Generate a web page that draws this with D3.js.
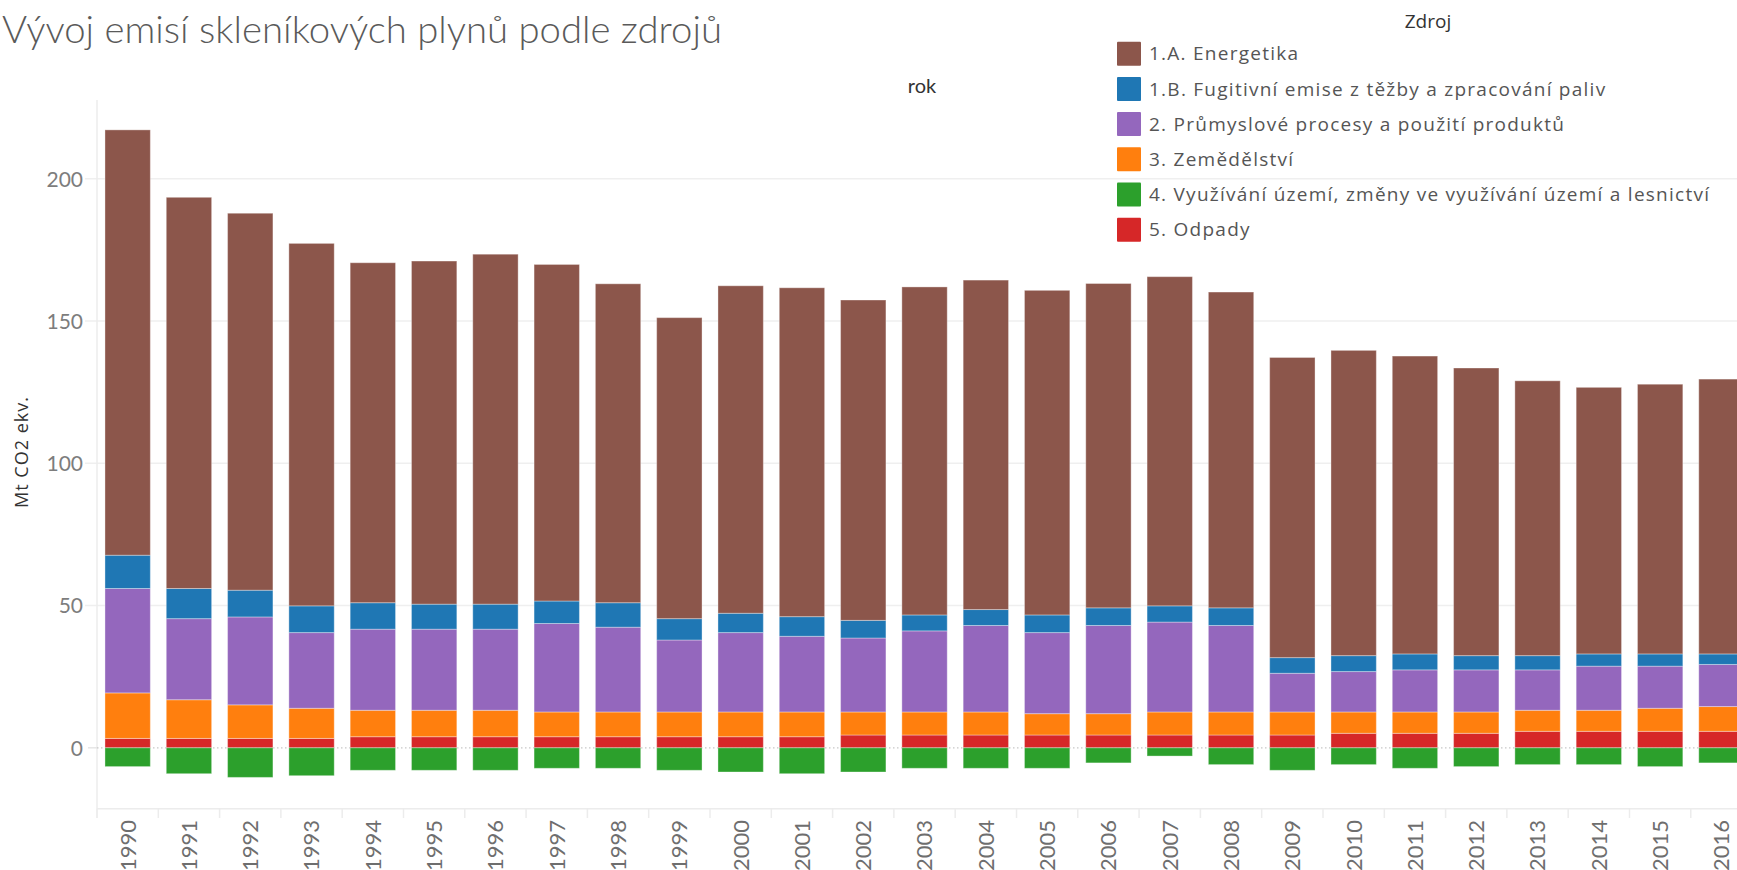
<!DOCTYPE html>
<html>
<head>
<meta charset="utf-8">
<script src="https://cdn.jsdelivr.net/npm/d3@7"></script>
<style>
  html, body { margin: 0; padding: 0; background: #fff; overflow: hidden; }
  svg { display: block; font-family: Lato, "Open Sans", sans-serif; }
</style>
</head>
<body>
<svg id="chart" width="1737" height="870"></svg>
<script>
// ---- Data (Mt CO2 ekv.) ----
const years = ["1990","1991","1992","1993","1994","1995","1996","1997","1998","1999","2000","2001","2002","2003","2004","2005","2006","2007","2008","2009","2010","2011","2012","2013","2014","2015","2016"];
const seriesNames = [
  "1.A. Energetika",
  "1.B. Fugitivní emise z těžby a zpracování paliv",
  "2. Průmyslové procesy a použití produktů",
  "3. Zemědělství",
  "4. Využívání území, změny ve využívání území a lesnictví",
  "5. Odpady"
];
const energetika  = [149.5,137.5,132.5,127.4,119.5,120.6,123.0,118.3,112.1,105.8,115.1,115.6,112.6,115.3,115.8,114.1,114.0,115.7,111.0,105.5,107.3,104.7,101.1,96.6,93.7,94.8,96.6];
const fugitivni   = [11.7,10.6,9.4,9.4,9.3,8.8,8.8,7.9,8.6,7.5,6.8,6.9,6.2,5.6,5.6,6.2,6.2,5.7,6.2,5.5,5.6,5.6,5.0,5.0,4.3,4.3,3.7];
const prumysl     = [36.7,28.5,30.9,26.6,28.5,28.5,28.5,31.1,29.8,25.3,27.9,26.6,26.0,28.5,30.4,28.5,31.0,31.6,30.4,13.6,14.2,14.8,14.8,14.2,15.5,14.8,14.8];
const zemedelstvi = [16.0,13.6,11.8,10.6,9.3,9.3,9.3,8.7,8.7,8.7,8.7,8.7,8.1,8.1,8.1,7.5,7.5,8.1,8.1,8.1,7.5,7.5,7.5,7.4,7.4,8.1,8.7];
const lulucf      = [-6.6,-9.1,-10.4,-9.8,-7.9,-7.9,-7.9,-7.2,-7.2,-7.9,-8.5,-9.1,-8.5,-7.2,-7.2,-7.2,-5.3,-2.9,-5.9,-7.9,-5.9,-7.2,-6.6,-5.9,-5.9,-6.6,-5.3];
const odpady      = [3.3,3.3,3.3,3.3,3.9,3.9,3.9,3.9,3.9,3.9,3.9,3.9,4.5,4.5,4.5,4.5,4.5,4.5,4.5,4.5,5.1,5.1,5.1,5.8,5.8,5.8,5.8];
const yTicks = [0, 50, 100, 150, 200];
const colors = ["#8c564b","#1f77b4","#9467bd","#ff7f0e","#2ca02c","#d62728"];

// ---- Build table ----
const valuesBySeries = [energetika, fugitivni, prumysl, zemedelstvi, lulucf, odpady];
const table = years.map((y, i) => {
  const row = { year: y };
  seriesNames.forEach((s, k) => row[s] = valuesBySeries[k][i]);
  return row;
});
// stack order bottom-up: Odpady, Zemědělství, Průmysl, Fugitivní, Energetika, LULUCF
const stackKeys = [seriesNames[5], seriesNames[3], seriesNames[2], seriesNames[1], seriesNames[0], seriesNames[4]];
const color = d3.scaleOrdinal().domain(seriesNames).range(colors);

const svg = d3.select("#chart");
const plotLeft = 97, plotTop = 100, axisY = 808.7;
const stepW = 61.3;

const x = d3.scaleBand().domain(years)
  .range([plotLeft, plotLeft + stepW * years.length])
  .paddingInner(0.26).paddingOuter(0.13);
const y = d3.scaleLinear().domain([-21.4, 227.7]).range([axisY, plotTop]);

// ---- Gridlines ----
const grid = svg.append("g");
grid.selectAll("line.g").data(yTicks.filter(t => t !== 0)).join("line")
  .attr("x1", 85).attr("x2", 1737)
  .attr("y1", d => y(d)).attr("y2", d => y(d))
  .attr("stroke", "#efefef").attr("stroke-width", 1.5);

// axis lines
svg.append("line").attr("x1", plotLeft).attr("x2", plotLeft).attr("y1", plotTop).attr("y2", 818)
  .attr("stroke", "#ececec").attr("stroke-width", 1.5);
svg.append("line").attr("x1", plotLeft).attr("x2", 1737).attr("y1", axisY).attr("y2", axisY)
  .attr("stroke", "#ececec").attr("stroke-width", 1.5);
// separators on x axis
svg.append("g").selectAll("line").data(years).join("line")
  .attr("x1", d => x(d) - x.step() * 0.13).attr("x2", d => x(d) - x.step() * 0.13)
  .attr("y1", axisY).attr("y2", 818)
  .attr("stroke", "#ececec").attr("stroke-width", 1.5);

// zero line (dotted)
svg.append("line").attr("x1", 88).attr("x2", plotLeft).attr("y1", y(0)).attr("y2", y(0))
  .attr("stroke", "#e6e6e6").attr("stroke-width", 1.5);
svg.append("line").attr("x1", plotLeft).attr("x2", 1737).attr("y1", y(0)).attr("y2", y(0))
  .attr("stroke", "#c8c8c8").attr("stroke-width", 1.2).attr("stroke-dasharray", "1.5,2.5");

// ---- Bars ----
const stacked = d3.stack().keys(stackKeys).offset(d3.stackOffsetDiverging)(table);
svg.append("g").selectAll("g").data(stacked).join("g")
  .attr("fill", d => color(d.key))
  .selectAll("rect").data(d => d).join("rect")
  .attr("x", d => x(d.data.year))
  .attr("width", x.bandwidth())
  .attr("y", d => y(Math.max(d[0], d[1])))
  .attr("height", d => Math.abs(y(d[0]) - y(d[1])))
  .attr("stroke", "rgba(255,255,255,0.35)")
  .attr("stroke-width", 1);

// ---- Y axis labels ----
const yAxis = d3.axisLeft(y).tickValues(yTicks).tickSize(0).tickPadding(0);
const ya = svg.append("g").attr("transform", "translate(83,0)").call(yAxis);
ya.select(".domain").remove();
ya.selectAll("text").attr("font-size", 21).attr("fill", "#7d7d7d")
  .attr("font-family", "Lato, sans-serif").attr("dy", "0.35em");

// ---- X axis labels ----
const xAxis = d3.axisBottom(x).tickSize(0);
const xa = svg.append("g").attr("transform", `translate(0,${820})`).call(xAxis);
xa.select(".domain").remove();
xa.selectAll("text")
  .attr("transform", "rotate(-90)")
  .attr("text-anchor", "end")
  .attr("x", 0).attr("y", 0).attr("dy", "0.36em")
  .attr("font-size", 22).attr("fill", "#6e6e6e")
  .attr("font-family", "Lato, sans-serif");

// ---- Titles / labels ----
svg.append("text").attr("x", 2).attr("y", 43)
  .attr("font-size", 38).attr("font-weight", 300).attr("fill", "#5a5a5a")
  .attr("textLength", 720).attr("lengthAdjust", "spacingAndGlyphs")
  .text("Vývoj emisí skleníkových plynů podle zdrojů");

svg.append("text").attr("x", 922).attr("y", 93).attr("text-anchor", "middle")
  .attr("font-size", 20).attr("fill", "#333").text("rok");

svg.append("text").attr("transform", "translate(28,452) rotate(-90)")
  .attr("text-anchor", "middle").attr("font-size", 18).attr("fill", "#333")
  .attr("letter-spacing", "1px")
  .attr("font-family", "'Open Sans', sans-serif")
  .text("Mt CO2 ekv.");

// ---- Legend ----
const lg = svg.append("g");
lg.append("text").attr("x", 1428).attr("y", 28).attr("text-anchor", "middle")
  .attr("font-size", 19).attr("fill", "#333")
  .attr("font-family", "'Open Sans', sans-serif").text("Zdroj");
const items = lg.selectAll("g.item").data(seriesNames).join("g")
  .attr("transform", (d, i) => `translate(1117,${41.7 + i * 35.2})`);
items.append("rect").attr("width", 24).attr("height", 24).attr("rx", 1)
  .attr("fill", d => color(d));
items.append("text").attr("x", 32).attr("y", 12).attr("dy", "0.35em")
  .attr("font-size", 19).attr("fill", "#555").attr("letter-spacing", "1.25px")
  .attr("font-family", "'Open Sans', sans-serif")
  .text(d => d);
</script>
</body>
</html>
